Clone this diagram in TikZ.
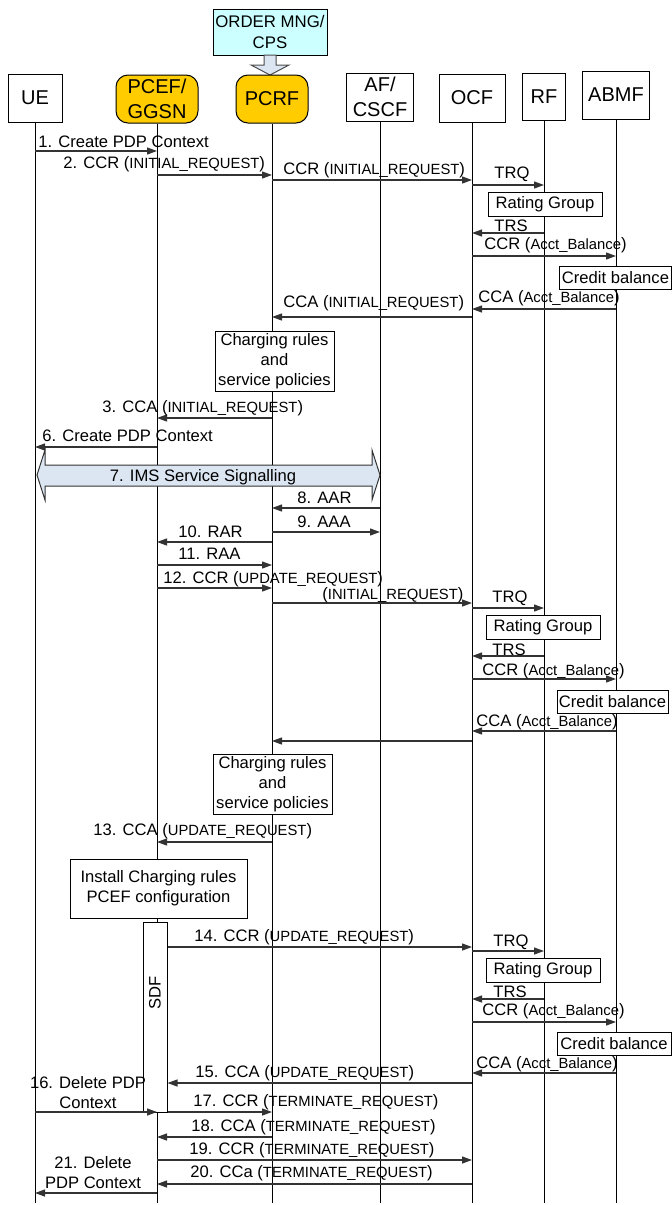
\documentclass[tikz,border=0pt]{standalone}
\usepackage{fontspec}
\setmainfont{Liberation Sans}
\usetikzlibrary{arrows.meta}
\definecolor{gold}{HTML}{FFCC00}
\definecolor{paleblue}{HTML}{CCFFFF}
\definecolor{sigfill}{HTML}{DCE6F2}
\newcommand{\param}[1]{{\fontsize{7.4}{8}\selectfont #1}}

\begin{document}
\begin{tikzpicture}[x=0.5pt,y=-0.5pt,
		font=\fontsize{8.3}{10}\selectfont,
		entity/.style={draw,line width=0.5pt,minimum width=#1,minimum height=24pt,inner sep=0pt,align=center,font=\fontsize{10}{12.5}\selectfont},
		pcrfbox/.style={entity=#1,rounded corners=6pt,fill=gold},
		life/.style={line width=0.5pt},
		msg/.style={-{Triangle[length=5pt,width=3.5pt]},line width=0.6pt,draw=black!80},
		lbl/.style={anchor=west,inner sep=0pt},
		note/.style={draw,fill=white,line width=0.5pt,inner sep=0pt,align=center}]
				\useasboundingbox (0,0) rectangle (672,1205);
				% order management on top of the PCRF
				\node[draw,fill=paleblue,line width=0.5pt,minimum width=57pt,minimum height=23pt,inner sep=0pt,align=center,font=\fontsize{8.4}{10.5}\selectfont] (order) at (270,32) {ORDER MNG/\\CPS};
				\draw[fill=sigfill,draw=black!70,line width=0.5pt] (264,55) -- (276,55) -- (276,65) -- (289,65) -- (270,75) -- (251,65) -- (264,65) -- cycle;
				% entities
				\node[entity=27pt] (ue) at (35,98) {UE};
				\node[pcrfbox=41pt] (pcef) at (157,99) {PCEF/\\GGSN};
				\node[pcrfbox=36pt] (pcrf) at (272,99) {PCRF};
				\node[entity=33.5pt] (af) at (380,97) {AF/\\CSCF};
				\node[entity=33pt] (ocf) at (472,98) {OCF};
				\node[entity=21.5pt,minimum height=23.5pt] (rf) at (544,96.5) {RF};
				\node[entity=33.5pt] (abmf) at (616,95) {ABMF};
				\foreach \e in {ue,pcef,pcrf,af,ocf,rf,abmf}
					\draw[life] (\e.south) -- (\e.south |- 0,1203);
				% initial request
				\draw[msg] (ue |- 0,151) -- (pcef |- 0,151);
				\node[lbl] (m1) at (38,142) {1. Create PDP Context};
				\draw[msg] (pcef |- 0,175) -- (pcrf |- 0,175);
				\node[lbl] (m2) at (63,164) {2. CCR (\param{INITIAL\_REQUEST})};
				\draw[msg] (pcrf |- 0,180) -- (ocf |- 0,180);
				\node[lbl] (m2a) at (283,170) {CCR (\param{INITIAL\_REQUEST})};
				\draw[msg] (ocf |- 0,185) -- (rf |- 0,185);
				\node[lbl] (trq1) at (494,174) {TRQ};
				\node[note,minimum width=57pt,minimum height=12pt] (rg1) at (545,204) {Rating Group};
				\draw[msg] (rf |- 0,233) -- (ocf |- 0,233);
				\node[lbl] (trs1) at (494,226) {TRS};
				\draw[msg] (ocf |- 0,256) -- (abmf |- 0,256);
				\node[lbl] (ccr1) at (484,245) {CCR (\param{Acct\_Balance})};
				\node[note,minimum width=56pt,minimum height=11.5pt] (cb1) at (615.5,277.5) {Credit balance};
				\draw[msg] (abmf |- 0,309) -- (ocf |- 0,309);
				\node[lbl] (cca1) at (478,298) {CCA (\param{Acct\_Balance})};
				\draw[msg] (ocf |- 0,317) -- (pcrf |- 0,317);
				\node[lbl] (m2b) at (283,303) {CCA (\param{INITIAL\_REQUEST})};
				\node[note,minimum width=59.5pt,minimum height=30pt] (rules1) at (274.5,361) {Charging rules\\and\\service policies};
				\draw[msg] (pcrf |- 0,418) -- (pcef |- 0,418);
				\node[lbl] (m3) at (102,408) {3. CCA (\param{INITIAL\_REQUEST})};
				\draw[msg] (pcef |- 0,447) -- (ue |- 0,447);
				\node[lbl] (m6) at (42,436) {6. Create PDP Context};
				% IMS signalling
				\draw[fill=sigfill,draw=black!80,line width=0.5pt] (37,475) -- (45,450) -- (45,465) -- (372,465) -- (372,450) -- (380,475) -- (372,500) -- (372,486) -- (45,486) -- (45,500) -- cycle;
				\node (m7) at (203,477) {7. IMS Service Signalling};
				\draw[msg] (af |- 0,508) -- (pcrf |- 0,508);
				\node[lbl] (m8) at (297,498) {8. AAR};
				\draw[msg] (pcrf |- 0,532) -- (af |- 0,532);
				\node[lbl] (m9) at (297,522) {9. AAA};
				\draw[msg] (pcrf |- 0,542) -- (pcef |- 0,542);
				\node[lbl] (m10) at (178,532) {10. RAR};
				\draw[msg] (pcef |- 0,565) -- (pcrf |- 0,565);
				\node[lbl] (m11) at (178,554) {11. RAA};
				% update request
				\draw[msg] (pcef |- 0,588) -- (pcrf |- 0,588);
				\node[lbl] (m12) at (163,579) {12. CCR (\param{UPDATE\_REQUEST})};
				\draw[msg] (pcrf |- 0,603) -- (ocf |- 0,603);
				\node[lbl] (m12a) at (322,595) {(\param{INITIAL\_REQUEST})};
				\draw[msg] (ocf |- 0,608) -- (rf |- 0,608);
				\node[lbl] (trq2) at (492,598) {TRQ};
				\node[note,minimum width=57pt,minimum height=12pt] (rg2) at (543,627) {Rating Group};
				\draw[msg] (rf |- 0,656) -- (ocf |- 0,656);
				\node[lbl] (trs2) at (492,650) {TRS};
				\draw[msg] (ocf |- 0,679) -- (abmf |- 0,679);
				\node[lbl] (ccr2) at (482,671) {CCR (\param{Acct\_Balance})};
				\node[note,minimum width=55.5pt,minimum height=11.5pt] (cb2) at (612.5,701.5) {Credit balance};
				\draw[msg] (abmf |- 0,731) -- (ocf |- 0,731);
				\node[lbl] (cca2) at (476,722) {CCA (\param{Acct\_Balance})};
				\draw[msg] (ocf |- 0,741) -- (pcrf |- 0,741);
				\node[note,minimum width=59.5pt,minimum height=30pt] (rules2) at (272.5,784) {Charging rules\\and\\service policies};
				\draw[msg] (pcrf |- 0,842) -- (pcef |- 0,842);
				\node[lbl] (m13) at (93,831) {13. CCA (\param{UPDATE\_REQUEST})};
				\node[note,minimum width=88.5pt,minimum height=29.5pt] (install) at (158.5,888.5) {Install Charging rules\\PCEF configuration};
				% service data flow
				\node[note,minimum width=12pt,minimum height=95pt] (sdf) at (155,1017) {};
				\node[rotate=90,inner sep=0pt] (sdftext) at (155,993) {SDF};
				\draw[msg] (sdf.east |- 0,947) -- (ocf |- 0,947);
				\node[lbl] (m14) at (194,937) {14. CCR (\param{UPDATE\_REQUEST})};
				\draw[msg] (ocf |- 0,951) -- (rf |- 0,951);
				\node[lbl] (trq3) at (493,942) {TRQ};
				\node[note,minimum width=57pt,minimum height=12pt] (rg3) at (543,970) {Rating Group};
				\draw[msg] (rf |- 0,999) -- (ocf |- 0,999);
				\node[lbl] (trs3) at (493,992) {TRS};
				\draw[msg] (ocf |- 0,1022) -- (abmf |- 0,1022);
				\node[lbl] (ccr3) at (482,1011) {CCR (\param{Acct\_Balance})};
				\node[note,minimum width=57pt,minimum height=11.5pt] (cb3) at (614,1043.5) {Credit balance};
				\draw[msg] (abmf |- 0,1073) -- (ocf |- 0,1073);
				\node[lbl] (cca3) at (476,1064) {CCA (\param{Acct\_Balance})};
				\draw[msg] (ocf |- 0,1083) -- (sdf.east |- 0,1083);
				\node[lbl] (m15) at (195,1073) {15. CCA (\param{UPDATE\_REQUEST})};
				% termination
				\draw[msg] (ue |- 0,1112) -- (pcef |- 0,1112);
				\node[align=center,inner sep=0pt] (m16) at (88,1093) {16. Delete PDP\\Context};
				\draw[msg] (sdf.east |- 0,1112) -- (pcrf |- 0,1112);
				\node[lbl] (m17) at (193,1102) {17. CCR (\param{TERMINATE\_REQUEST})};
				\draw[msg] (pcrf |- 0,1137) -- (pcef |- 0,1137);
				\node[lbl] (m18) at (191,1127) {18. CCA (\param{TERMINATE\_REQUEST})};
				\draw[msg] (pcef |- 0,1160) -- (ocf |- 0,1160);
				\node[lbl] (m19) at (189,1150) {19. CCR (\param{TERMINATE\_REQUEST})};
				\draw[msg] (ocf |- 0,1184) -- (pcef |- 0,1184);
				\node[lbl] (m20) at (190,1173) {20. CCa (\param{TERMINATE\_REQUEST})};
				\draw[msg] (pcef |- 0,1193) -- (ue |- 0,1193);
				\node[align=center,inner sep=0pt] (m21) at (93,1173) {21. Delete\\PDP Context};
			\end{tikzpicture}
\end{document}
